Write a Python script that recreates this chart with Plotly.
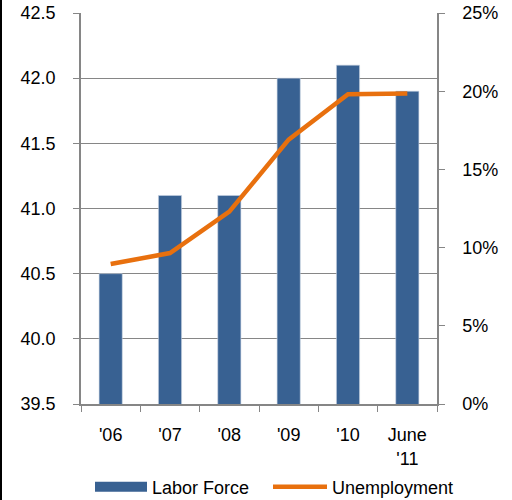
import plotly.graph_objects as go

categories = ["'06", "'07", "'08", "'09", "'10", "June<br>'11"]
labor_force = [40.5, 41.1, 41.1, 42.0, 42.1, 41.9]
unemployment = [0.0895, 0.0965, 0.123, 0.169, 0.198, 0.1985]

W, H = 512, 500
ml, mr, mt, mb = 81, 75, 13, 96
pw, ph = W - ml - mr, H - mt - mb

blue = "#386192"
orange = "#E8700E"

fig = go.Figure()
fig.add_trace(go.Bar(x=categories, y=labor_force, name="Labor Force", showlegend=False,
                     marker=dict(color=blue, line=dict(color="#c9d3e3", width=0.6)),
                     yaxis="y"))
fig.add_trace(go.Scatter(x=categories, y=unemployment, name="Unemployment", mode="lines",
                         showlegend=False,
                         line=dict(color=orange, width=4.5), yaxis="y2"))
# legend proxies (no visible marks in the plot)
fig.add_trace(go.Scatter(x=[categories[0]], y=[None], name="Labor Force", mode="lines",
                         line=dict(color=blue, width=10), yaxis="y", hoverinfo="skip",
                         legend="legend"))
fig.add_trace(go.Scatter(x=[categories[0]], y=[None], name="Unemployment", mode="lines",
                         line=dict(color=orange, width=4.5), yaxis="y2", hoverinfo="skip",
                         legend="legend2"))

font = dict(family="Liberation Sans, Arial, sans-serif", size=18, color="#000000")
axc = "#868686"

fig.update_layout(
    width=W, height=H,
    margin=dict(l=ml, r=mr, t=mt, b=mb, pad=0, autoexpand=False),
    paper_bgcolor="white", plot_bgcolor="white",
    font=font,
    bargap=0.61,
    showlegend=True,
    legend=dict(orientation="h", x=(95 - 5 - ml) / pw, xanchor="left", y=-0.165, yanchor="top",
                font=font, itemwidth=52),
    legend2=dict(orientation="h", x=(273 - 5 - ml) / pw, xanchor="left", y=-0.165,
                 yanchor="top", font=font, itemwidth=54),
    xaxis=dict(showline=True, linecolor=axc, linewidth=1.5, ticks="outside",
               tickson="boundaries", ticklen=6, tickcolor=axc, showgrid=False,
               tickfont=font, ticklabelstandoff=14, automargin=False),
    yaxis=dict(range=[39.5, 42.5], dtick=0.5, tickformat=".1f", showline=True,
               linecolor=axc, linewidth=1.5, ticks="outside", ticklen=6, tickcolor=axc,
               showgrid=True, gridcolor=axc, gridwidth=1.2, zeroline=False,
               tickfont=font, ticklabelstandoff=14, automargin=False),
    yaxis2=dict(range=[0, 0.25], dtick=0.05, tickformat=".0%", overlaying="y", side="right",
                showline=True, linecolor=axc, linewidth=1.5, ticks="outside", ticklen=6,
                tickcolor=axc, showgrid=False, zeroline=False, tickfont=font,
                ticklabelstandoff=14, automargin=False),
    shapes=[dict(type="line", xref="paper", yref="paper",
                 x0=(1 - ml) / pw, x1=(1 - ml) / pw,
                 y0=-mb / ph, y1=1 + mt / ph,
                 line=dict(color="black", width=2))],
)

fig.write_html("out.html", config={"displayModeBar": False},
               post_script="document.body.style.margin='0';document.body.style.overflow='hidden';")
